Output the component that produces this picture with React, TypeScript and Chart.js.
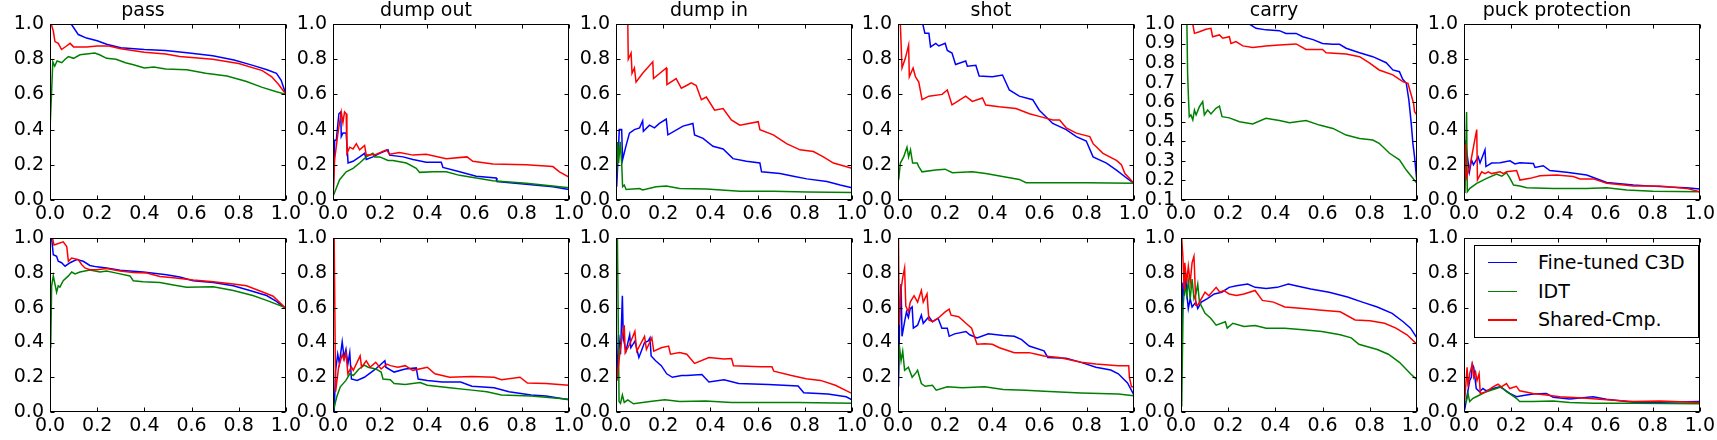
import { useEffect, useRef } from "react"
import { Chart, registerables } from "chart.js"

Chart.register(...registerables)

const FONT = "'DejaVu Sans', sans-serif"

type Pt = [number, number]

const titles = ["pass", "dump out", "dump in", "shot", "carry", "puck protection"]
const methods = ["Fine-tuned C3D", "IDT", "Shared-Cmp."]
const colors = ["#0000ff", "#008000", "#ff0000"]
const xTicks = [0, 0.2, 0.4, 0.6, 0.8, 1.0]
const yTicks = [0, 0.2, 0.4, 0.6, 0.8, 1.0]
const carryYTicks = [0.1, 0.2, 0.3, 0.4, 0.5, 0.6, 0.7, 0.8, 0.9, 1.0]

// top row
const passTopC3D: Pt[] = [[0,1],[0.09,1],[0.12,0.94],[0.155,0.92],[0.2,0.905],[0.24,0.885],[0.3,0.865],[0.4,0.855],[0.49,0.85],[0.59,0.835],[0.69,0.82],[0.78,0.795],[0.86,0.765],[0.92,0.74],[0.96,0.72],[0.98,0.68],[1,0.6]]
const passTopIDT: Pt[] = [[0,0.4],[0.012,0.785],[0.02,0.76],[0.03,0.79],[0.05,0.78],[0.064,0.8],[0.078,0.815],[0.1,0.805],[0.127,0.825],[0.19,0.835],[0.21,0.825],[0.24,0.805],[0.28,0.8],[0.32,0.78],[0.35,0.77],[0.4,0.75],[0.44,0.755],[0.49,0.745],[0.58,0.74],[0.66,0.72],[0.75,0.705],[0.83,0.675],[0.9,0.64],[0.96,0.615],[1,0.6]]
const passTopShared: Pt[] = [[0.005,1],[0.014,0.96],[0.021,0.9],[0.035,0.89],[0.049,0.855],[0.07,0.875],[0.085,0.89],[0.1,0.87],[0.155,0.87],[0.2,0.875],[0.25,0.875],[0.3,0.86],[0.4,0.84],[0.49,0.83],[0.55,0.815],[0.69,0.8],[0.8,0.775],[0.9,0.735],[0.94,0.7],[0.97,0.655],[1,0.6]]

const dumpOutTopC3D: Pt[] = [[0,0],[0.007,0.34],[0.014,0.34],[0.025,0.49],[0.033,0.5],[0.035,0.36],[0.042,0.38],[0.056,0.38],[0.064,0.21],[0.085,0.22],[0.113,0.245],[0.134,0.265],[0.141,0.23],[0.169,0.245],[0.198,0.265],[0.233,0.285],[0.24,0.255],[0.297,0.245],[0.339,0.23],[0.395,0.215],[0.459,0.215],[0.466,0.185],[0.537,0.16],[0.607,0.135],[0.692,0.125],[0.695,0.105],[0.819,0.09],[0.932,0.075],[1,0.06]]
const dumpOutTopIDT: Pt[] = [[0,0.02],[0.028,0.115],[0.056,0.16],[0.085,0.18],[0.113,0.21],[0.141,0.245],[0.169,0.265],[0.177,0.245],[0.198,0.245],[0.233,0.225],[0.254,0.225],[0.311,0.21],[0.353,0.18],[0.367,0.157],[0.424,0.16],[0.48,0.16],[0.537,0.14],[0.607,0.125],[0.678,0.11],[0.819,0.095],[0.932,0.08],[1,0.07]]
const dumpOutTopShared: Pt[] = [[0,0],[0.007,0.23],[0.021,0.38],[0.035,0.5],[0.042,0.44],[0.049,0.5],[0.056,0.49],[0.059,0.265],[0.071,0.3],[0.085,0.29],[0.099,0.32],[0.113,0.285],[0.134,0.31],[0.141,0.255],[0.184,0.26],[0.226,0.285],[0.24,0.26],[0.282,0.27],[0.339,0.255],[0.395,0.26],[0.48,0.235],[0.568,0.245],[0.593,0.22],[0.678,0.205],[0.819,0.2],[0.932,0.19],[0.96,0.16],[1,0.13]]

const dumpInTopC3D: Pt[] = [[0.003,0.075],[0.014,0.4],[0.024,0.4],[0.028,0.23],[0.043,0.31],[0.057,0.38],[0.078,0.4],[0.1,0.41],[0.113,0.45],[0.116,0.39],[0.142,0.425],[0.163,0.41],[0.184,0.435],[0.213,0.46],[0.22,0.37],[0.284,0.42],[0.326,0.435],[0.333,0.37],[0.369,0.35],[0.411,0.305],[0.454,0.29],[0.496,0.235],[0.553,0.22],[0.61,0.21],[0.617,0.16],[0.695,0.15],[0.752,0.135],[0.809,0.12],[0.894,0.105],[0.95,0.085],[1,0.07]]
const dumpInTopIDT: Pt[] = [[0.003,0.15],[0.007,0.33],[0.011,0.21],[0.018,0.33],[0.024,0.21],[0.028,0.075],[0.035,0.085],[0.043,0.06],[0.1,0.065],[0.113,0.057],[0.17,0.075],[0.213,0.08],[0.27,0.065],[0.383,0.063],[0.525,0.05],[0.667,0.05],[0.809,0.045],[1,0.042]]
const dumpInTopShared: Pt[] = [[0.05,1],[0.052,0.8],[0.064,0.835],[0.068,0.72],[0.078,0.75],[0.085,0.67],[0.113,0.72],[0.156,0.785],[0.159,0.69],[0.213,0.75],[0.216,0.655],[0.255,0.69],[0.277,0.635],[0.305,0.655],[0.319,0.665],[0.34,0.65],[0.362,0.57],[0.383,0.585],[0.418,0.51],[0.454,0.52],[0.489,0.455],[0.525,0.425],[0.603,0.445],[0.61,0.4],[0.667,0.37],[0.723,0.32],[0.78,0.285],[0.837,0.275],[0.879,0.245],[0.922,0.21],[1,0.18]]

const shotTopC3D: Pt[] = [[0.105,1],[0.114,0.947],[0.131,0.947],[0.138,0.87],[0.16,0.89],[0.173,0.875],[0.2,0.89],[0.209,0.85],[0.229,0.835],[0.244,0.77],[0.287,0.79],[0.294,0.76],[0.33,0.765],[0.344,0.705],[0.4,0.7],[0.443,0.71],[0.472,0.625],[0.514,0.59],[0.571,0.57],[0.599,0.51],[0.656,0.435],[0.713,0.4],[0.756,0.36],[0.798,0.335],[0.827,0.245],[0.884,0.21],[0.926,0.17],[0.969,0.125],[1,0.095]]
const shotTopIDT: Pt[] = [[0.003,0.115],[0.01,0.21],[0.024,0.245],[0.038,0.3],[0.045,0.245],[0.053,0.285],[0.062,0.21],[0.081,0.21],[0.088,0.19],[0.102,0.16],[0.159,0.17],[0.2,0.175],[0.23,0.155],[0.315,0.16],[0.372,0.15],[0.443,0.133],[0.514,0.117],[0.543,0.098],[0.656,0.098],[0.798,0.098],[1,0.095]]
const shotTopShared: Pt[] = [[0.01,1],[0.017,0.75],[0.031,0.805],[0.045,0.88],[0.048,0.7],[0.064,0.75],[0.074,0.7],[0.088,0.67],[0.102,0.57],[0.131,0.59],[0.187,0.6],[0.209,0.625],[0.229,0.54],[0.287,0.59],[0.315,0.56],[0.358,0.58],[0.372,0.54],[0.429,0.53],[0.5,0.52],[0.557,0.49],[0.599,0.475],[0.656,0.455],[0.685,0.455],[0.713,0.41],[0.756,0.38],[0.813,0.36],[0.827,0.32],[0.869,0.265],[0.926,0.225],[0.947,0.2],[0.962,0.15],[1,0.095]]

const carryTopC3D: Pt[] = [[0,1],[0.29,1],[0.318,0.978],[0.36,0.97],[0.417,0.966],[0.445,0.952],[0.488,0.952],[0.516,0.935],[0.56,0.92],[0.6,0.9],[0.644,0.896],[0.672,0.896],[0.7,0.876],[0.757,0.853],[0.813,0.833],[0.87,0.802],[0.898,0.765],[0.926,0.756],[0.94,0.717],[0.955,0.697],[0.966,0.611],[0.976,0.492],[0.983,0.39],[0.99,0.322],[1,0.194]]
const carryTopIDT: Pt[] = [[0.025,1],[0.028,0.748],[0.032,0.611],[0.035,0.526],[0.042,0.535],[0.05,0.51],[0.057,0.56],[0.064,0.535],[0.078,0.577],[0.092,0.603],[0.099,0.535],[0.113,0.56],[0.127,0.54],[0.148,0.569],[0.163,0.58],[0.174,0.526],[0.205,0.52],[0.248,0.5],[0.304,0.489],[0.36,0.518],[0.417,0.506],[0.46,0.495],[0.53,0.506],[0.587,0.483],[0.644,0.466],[0.7,0.432],[0.757,0.415],[0.813,0.407],[0.84,0.39],[0.884,0.339],[0.926,0.305],[0.955,0.253],[0.983,0.211],[1,0.185]]
const carryTopShared: Pt[] = [[0.05,1],[0.057,0.952],[0.078,0.96],[0.106,0.973],[0.127,0.978],[0.134,0.935],[0.163,0.944],[0.177,0.927],[0.205,0.935],[0.212,0.9],[0.233,0.91],[0.262,0.888],[0.304,0.88],[0.36,0.888],[0.417,0.893],[0.488,0.898],[0.53,0.87],[0.6,0.87],[0.615,0.853],[0.7,0.846],[0.757,0.833],[0.8,0.8],[0.84,0.765],[0.898,0.74],[0.94,0.705],[0.962,0.697],[0.976,0.637],[0.986,0.594],[0.99,0.552],[1,0.535]]

const puckTopC3D: Pt[] = [[0.001,0.04],[0.007,0.34],[0.011,0.28],[0.023,0.16],[0.032,0.227],[0.04,0.2],[0.06,0.245],[0.068,0.21],[0.089,0.285],[0.093,0.19],[0.117,0.21],[0.153,0.212],[0.195,0.223],[0.216,0.205],[0.237,0.212],[0.294,0.208],[0.301,0.185],[0.336,0.195],[0.364,0.167],[0.435,0.157],[0.52,0.142],[0.605,0.1],[0.718,0.085],[0.83,0.076],[0.943,0.07],[1,0.063]]
const puckTopIDT: Pt[] = [[0.004,0.04],[0.011,0.5],[0.014,0.047],[0.025,0.066],[0.054,0.095],[0.096,0.123],[0.138,0.148],[0.16,0.135],[0.18,0.155],[0.195,0.123],[0.21,0.085],[0.237,0.08],[0.266,0.07],[0.38,0.066],[0.52,0.066],[0.605,0.07],[0.69,0.057],[0.8,0.05],[1,0.047]]
const puckTopShared: Pt[] = [[0.001,0.04],[0.007,0.32],[0.011,0.13],[0.025,0.19],[0.04,0.3],[0.054,0.4],[0.057,0.115],[0.075,0.16],[0.089,0.15],[0.103,0.16],[0.117,0.15],[0.153,0.16],[0.167,0.15],[0.18,0.16],[0.223,0.167],[0.237,0.113],[0.28,0.123],[0.322,0.138],[0.393,0.142],[0.463,0.133],[0.492,0.12],[0.548,0.12],[0.605,0.095],[0.718,0.08],[0.83,0.08],[0.943,0.066],[1,0.047]]

// bottom row
const passBotC3D: Pt[] = [[0.007,1],[0.014,0.906],[0.028,0.897],[0.035,0.868],[0.049,0.86],[0.064,0.84],[0.085,0.86],[0.113,0.878],[0.141,0.868],[0.169,0.844],[0.198,0.836],[0.24,0.83],[0.297,0.816],[0.395,0.806],[0.494,0.79],[0.55,0.778],[0.607,0.756],[0.692,0.746],[0.777,0.727],[0.847,0.7],[0.918,0.671],[0.96,0.637],[1,0.596]]
const passBotIDT: Pt[] = [[0.003,0.37],[0.007,0.727],[0.014,0.784],[0.021,0.737],[0.028,0.69],[0.035,0.727],[0.042,0.72],[0.056,0.756],[0.078,0.784],[0.092,0.806],[0.106,0.795],[0.127,0.806],[0.169,0.818],[0.212,0.806],[0.24,0.812],[0.282,0.8],[0.339,0.784],[0.353,0.756],[0.395,0.75],[0.466,0.746],[0.523,0.731],[0.579,0.718],[0.692,0.722],[0.777,0.7],[0.86,0.671],[0.918,0.643],[1,0.6]]
const passBotShared: Pt[] = [[0.011,1],[0.017,0.962],[0.056,0.98],[0.071,0.953],[0.078,0.868],[0.092,0.887],[0.12,0.878],[0.134,0.85],[0.148,0.83],[0.169,0.82],[0.198,0.82],[0.24,0.827],[0.297,0.812],[0.353,0.803],[0.41,0.8],[0.466,0.78],[0.523,0.774],[0.607,0.76],[0.692,0.75],[0.777,0.737],[0.833,0.727],[0.904,0.69],[0.946,0.667],[1,0.596]]

const dumpOutBotC3D: Pt[] = [[0.005,0],[0.011,0.24],[0.02,0.333],[0.027,0.28],[0.039,0.404],[0.047,0.314],[0.055,0.36],[0.063,0.276],[0.071,0.342],[0.078,0.19],[0.102,0.182],[0.133,0.2],[0.181,0.248],[0.22,0.295],[0.224,0.258],[0.259,0.23],[0.306,0.248],[0.353,0.254],[0.361,0.19],[0.4,0.182],[0.463,0.173],[0.541,0.173],[0.589,0.148],[0.683,0.14],[0.746,0.117],[0.84,0.098],[0.903,0.092],[1,0.07]]
const dumpOutBotIDT: Pt[] = [[0,0],[0.016,0.088],[0.031,0.145],[0.055,0.182],[0.071,0.22],[0.086,0.21],[0.11,0.248],[0.133,0.27],[0.149,0.258],[0.181,0.248],[0.204,0.23],[0.212,0.19],[0.243,0.186],[0.259,0.164],[0.306,0.158],[0.369,0.17],[0.4,0.154],[0.494,0.14],[0.589,0.126],[0.652,0.117],[0.714,0.098],[0.84,0.092],[1,0.073]]
const dumpOutBotShared: Pt[] = [[0.005,1],[0.011,0.117],[0.024,0.26],[0.039,0.33],[0.047,0.3],[0.055,0.34],[0.063,0.22],[0.078,0.26],[0.086,0.24],[0.115,0.323],[0.121,0.258],[0.141,0.295],[0.157,0.258],[0.181,0.286],[0.204,0.248],[0.228,0.276],[0.243,0.267],[0.275,0.258],[0.306,0.267],[0.338,0.24],[0.4,0.258],[0.432,0.22],[0.494,0.2],[0.589,0.205],[0.683,0.2],[0.714,0.186],[0.793,0.2],[0.824,0.167],[0.903,0.164],[1,0.154]]

const dumpInBotC3D: Pt[] = [[0.003,0.18],[0.011,0.445],[0.019,0.333],[0.027,0.67],[0.031,0.427],[0.042,0.35],[0.058,0.445],[0.063,0.37],[0.08,0.408],[0.097,0.314],[0.121,0.4],[0.137,0.41],[0.144,0.427],[0.149,0.323],[0.168,0.295],[0.192,0.267],[0.215,0.22],[0.239,0.2],[0.278,0.21],[0.3,0.21],[0.364,0.216],[0.394,0.173],[0.458,0.186],[0.52,0.164],[0.646,0.158],[0.772,0.15],[0.796,0.111],[0.898,0.103],[0.976,0.088],[1,0.07]]
const dumpInBotIDT: Pt[] = [[0.006,1],[0.013,0.06],[0.019,0.05],[0.027,0.098],[0.035,0.055],[0.05,0.07],[0.074,0.047],[0.144,0.06],[0.207,0.07],[0.27,0.06],[0.38,0.064],[0.49,0.055],[0.615,0.055],[0.772,0.055],[1,0.05]]
const dumpInBotShared: Pt[] = [[0.003,0.18],[0.019,0.37],[0.035,0.5],[0.039,0.342],[0.058,0.39],[0.08,0.464],[0.088,0.35],[0.121,0.436],[0.129,0.36],[0.152,0.427],[0.16,0.35],[0.192,0.37],[0.223,0.38],[0.231,0.333],[0.27,0.342],[0.3,0.333],[0.333,0.28],[0.394,0.314],[0.458,0.305],[0.49,0.308],[0.498,0.267],[0.615,0.261],[0.661,0.26],[0.669,0.235],[0.744,0.21],[0.806,0.192],[0.867,0.182],[0.93,0.154],[1,0.107]]

const shotBotC3D: Pt[] = [[0.002,0.145],[0.008,0.615],[0.013,0.737],[0.017,0.436],[0.028,0.52],[0.036,0.577],[0.044,0.545],[0.052,0.595],[0.06,0.605],[0.065,0.483],[0.083,0.5],[0.099,0.558],[0.107,0.511],[0.131,0.549],[0.146,0.52],[0.17,0.54],[0.186,0.483],[0.209,0.483],[0.217,0.436],[0.24,0.45],[0.288,0.464],[0.304,0.445],[0.335,0.427],[0.383,0.45],[0.446,0.44],[0.493,0.436],[0.524,0.417],[0.556,0.38],[0.619,0.352],[0.635,0.314],[0.713,0.31],[0.776,0.286],[0.839,0.258],[0.902,0.242],[0.934,0.22],[0.973,0.167],[1,0.098]]
const shotBotIDT: Pt[] = [[0.002,0.22],[0.005,0.39],[0.013,0.295],[0.02,0.35],[0.028,0.24],[0.044,0.258],[0.06,0.2],[0.075,0.224],[0.083,0.24],[0.099,0.164],[0.115,0.148],[0.146,0.154],[0.162,0.126],[0.209,0.145],[0.272,0.14],[0.367,0.145],[0.446,0.13],[0.54,0.126],[0.619,0.12],[0.776,0.11],[0.934,0.103],[1,0.094]]
const shotBotShared: Pt[] = [[0.002,1],[0.005,0.5],[0.013,0.71],[0.02,0.774],[0.028,0.83],[0.033,0.61],[0.044,0.577],[0.052,0.633],[0.068,0.67],[0.083,0.633],[0.099,0.7],[0.107,0.633],[0.123,0.68],[0.131,0.53],[0.146,0.52],[0.17,0.54],[0.2,0.577],[0.217,0.592],[0.225,0.558],[0.257,0.549],[0.288,0.511],[0.312,0.483],[0.335,0.39],[0.367,0.393],[0.4,0.39],[0.43,0.37],[0.493,0.342],[0.556,0.342],[0.587,0.333],[0.619,0.323],[0.682,0.314],[0.713,0.305],[0.776,0.286],[0.839,0.276],[0.934,0.267],[0.978,0.267],[0.981,0.2],[0.99,0.145],[1,0.145]]

const carryBotC3D: Pt[] = [[0.003,0.333],[0.008,0.746],[0.013,0.67],[0.019,0.8],[0.024,0.69],[0.031,0.596],[0.039,0.652],[0.047,0.605],[0.063,0.633],[0.071,0.596],[0.086,0.633],[0.11,0.652],[0.141,0.68],[0.173,0.69],[0.204,0.718],[0.235,0.727],[0.283,0.737],[0.314,0.718],[0.361,0.712],[0.408,0.718],[0.455,0.737],[0.487,0.727],[0.55,0.709],[0.628,0.69],[0.706,0.662],[0.769,0.633],[0.832,0.605],[0.895,0.568],[0.942,0.52],[0.973,0.483],[1,0.427]]
const carryBotIDT: Pt[] = [[0.003,0.03],[0.009,0.615],[0.016,0.727],[0.024,0.67],[0.031,0.756],[0.039,0.652],[0.047,0.765],[0.055,0.652],[0.063,0.68],[0.071,0.737],[0.078,0.633],[0.102,0.568],[0.126,0.54],[0.149,0.5],[0.188,0.52],[0.196,0.483],[0.22,0.511],[0.267,0.492],[0.314,0.498],[0.361,0.483],[0.44,0.483],[0.518,0.474],[0.597,0.464],[0.675,0.445],[0.722,0.427],[0.754,0.39],[0.832,0.36],[0.879,0.333],[0.926,0.286],[0.973,0.22],[1,0.186]]
const carryBotShared: Pt[] = [[0.003,1],[0.008,0.897],[0.013,0.71],[0.016,0.86],[0.024,0.746],[0.031,0.84],[0.039,0.746],[0.047,0.86],[0.055,0.897],[0.063,0.615],[0.071,0.615],[0.086,0.652],[0.102,0.69],[0.118,0.67],[0.149,0.718],[0.165,0.69],[0.181,0.7],[0.204,0.68],[0.235,0.671],[0.267,0.68],[0.314,0.7],[0.345,0.643],[0.392,0.633],[0.44,0.605],[0.518,0.596],[0.597,0.586],[0.675,0.577],[0.738,0.53],[0.801,0.526],[0.863,0.511],[0.911,0.483],[0.958,0.445],[1,0.39]]

const puckBotC3D: Pt[] = [[0.003,0.013],[0.01,0.07],[0.024,0.18],[0.031,0.2],[0.035,0.276],[0.041,0.258],[0.052,0.135],[0.066,0.117],[0.08,0.135],[0.095,0.122],[0.123,0.135],[0.151,0.145],[0.165,0.135],[0.194,0.107],[0.222,0.088],[0.264,0.098],[0.293,0.103],[0.349,0.107],[0.378,0.085],[0.448,0.075],[0.547,0.088],[0.604,0.073],[0.717,0.056],[0.83,0.056],[1,0.06]]
const puckBotIDT: Pt[] = [[0.003,0.05],[0.01,0.06],[0.017,0.107],[0.024,0.06],[0.038,0.079],[0.052,0.088],[0.095,0.117],[0.137,0.135],[0.158,0.145],[0.18,0.117],[0.201,0.098],[0.222,0.079],[0.236,0.06],[0.293,0.06],[0.378,0.064],[0.448,0.055],[0.547,0.05],[0.717,0.05],[1,0.047]]
const puckBotShared: Pt[] = [[0.003,0.07],[0.013,0.258],[0.017,0.145],[0.024,0.22],[0.035,0.276],[0.041,0.2],[0.049,0.23],[0.055,0.18],[0.064,0.22],[0.069,0.107],[0.095,0.117],[0.123,0.145],[0.144,0.16],[0.158,0.145],[0.18,0.164],[0.194,0.135],[0.222,0.148],[0.236,0.122],[0.293,0.107],[0.349,0.098],[0.406,0.088],[0.52,0.079],[0.604,0.07],[0.717,0.06],[0.83,0.064],[1,0.055]]

const topRow: Pt[][][] = [
  [passTopC3D, passTopIDT, passTopShared],
  [dumpOutTopC3D, dumpOutTopIDT, dumpOutTopShared],
  [dumpInTopC3D, dumpInTopIDT, dumpInTopShared],
  [shotTopC3D, shotTopIDT, shotTopShared],
  [carryTopC3D, carryTopIDT, carryTopShared],
  [puckTopC3D, puckTopIDT, puckTopShared],
]
const bottomRow: Pt[][][] = [
  [passBotC3D, passBotIDT, passBotShared],
  [dumpOutBotC3D, dumpOutBotIDT, dumpOutBotShared],
  [dumpInBotC3D, dumpInBotIDT, dumpInBotShared],
  [shotBotC3D, shotBotIDT, shotBotShared],
  [carryBotC3D, carryBotIDT, carryBotShared],
  [puckBotC3D, puckBotIDT, puckBotShared],
]

// layout in page pixels
const PLOT_W = 236
const Y_AXIS_W = 50
const X_AXIS_H = 28
const PAD_RIGHT = 18
const colLeft = (c: number) => Math.round(50 + c * 282.8)

// inward ticks on all four sides plus the box, like the classic matplotlib look
const frameTicks = {
  id: "frameTicks",
  afterDatasetsDraw(chart: any) {
    const { ctx, chartArea: a, scales } = chart
    const xs = scales.x
    const ys = scales.y
    const L = Math.round(a.left) + 0.5
    const R = Math.round(a.right) - 0.5
    const T = Math.round(a.top) + 0.5
    const B = Math.round(a.bottom) - 0.5
    ctx.save()
    ctx.strokeStyle = "#000"
    ctx.lineWidth = 1
    ctx.beginPath()
    for (const t of xs.ticks) {
      const px = Math.round(xs.getPixelForValue(t.value)) + 0.5
      ctx.moveTo(px, B)
      ctx.lineTo(px, B - 4)
      ctx.moveTo(px, T)
      ctx.lineTo(px, T + 4)
    }
    for (const t of ys.ticks) {
      const py = Math.round(ys.getPixelForValue(t.value)) + 0.5
      ctx.moveTo(L, py)
      ctx.lineTo(L + 4, py)
      ctx.moveTo(R, py)
      ctx.lineTo(R - 4, py)
    }
    ctx.stroke()
    ctx.strokeRect(L, T, R - L, B - T)
    ctx.restore()
  },
}

interface PanelProps {
  series: Pt[][]
  title?: string
  ticksY: number[]
  left: number
  top: number
  padTop: number
  plotH: number
}

function Panel({ series, title, ticksY, left, top, padTop, plotH }: PanelProps) {
  const canvasRef = useRef<HTMLCanvasElement>(null)
  const width = Y_AXIS_W + PLOT_W + PAD_RIGHT
  const height = padTop + plotH + X_AXIS_H

  useEffect(() => {
    if (!canvasRef.current) return
    const order = [3, 2, 1]
    const chart = new Chart(canvasRef.current, {
      type: "line",
      data: {
        datasets: series.map((pts, i) => ({
          label: methods[i],
          data: pts.map(([x, y]) => ({ x, y })),
          borderColor: colors[i],
          borderWidth: 1.5,
          pointRadius: 0,
          tension: 0,
          fill: false,
          order: order[i],
        })),
      },
      options: {
        responsive: false,
        animation: false,
        layout: { padding: { top: title ? 0 : padTop, right: PAD_RIGHT, left: 0, bottom: 0 } },
        plugins: {
          legend: { display: false },
          tooltip: { enabled: false },
          title: {
            display: !!title,
            text: title ?? "",
            color: "#000",
            font: { family: FONT, size: 19, weight: "normal" },
            padding: { top: 0, bottom: padTop - 22.8 },
          },
        },
        scales: {
          x: {
            type: "linear",
            min: 0,
            max: 1,
            grid: { display: false, drawTicks: false },
            border: { display: false },
            afterBuildTicks: (s: any) => {
              s.ticks = xTicks.map((v) => ({ value: v }))
            },
            afterFit: (s: any) => {
              s.height = X_AXIS_H
            },
            ticks: {
              color: "#000",
              font: { family: FONT, size: 19 },
              padding: 3,
              maxRotation: 0,
              autoSkip: false,
              callback: (v: any) => Number(v).toFixed(1),
            },
          },
          y: {
            type: "linear",
            min: ticksY[0],
            max: ticksY[ticksY.length - 1],
            grid: { display: false, drawTicks: false },
            border: { display: false },
            afterBuildTicks: (s: any) => {
              s.ticks = ticksY.map((v) => ({ value: v }))
            },
            afterFit: (s: any) => {
              s.width = Y_AXIS_W
            },
            ticks: {
              color: "#000",
              font: { family: FONT, size: 19 },
              padding: 6,
              autoSkip: false,
              callback: (v: any) => Number(v).toFixed(1),
            },
          },
        },
      },
      plugins: [frameTicks],
    })
    return () => chart.destroy()
  }, [series, title, ticksY, padTop, plotH])

  return (
    <canvas
      ref={canvasRef}
      width={width}
      height={height}
      style={{ position: "absolute", left: left - Y_AXIS_W, top, width, height }}
    />
  )
}

function Legend() {
  const rows = [16.7, 45.7, 74]
  return (
    <div
      style={{
        position: "absolute",
        left: 1474,
        top: 245,
        width: 225,
        height: 93,
        boxSizing: "border-box",
        border: "1px solid #000",
        background: "#fff",
        fontFamily: FONT,
        fontSize: 19,
      }}
    >
      {methods.map((m, i) => (
        <div key={m}>
          <div
            style={{
              position: "absolute",
              left: 13,
              top: rows[i] - 1,
              width: 29,
              height: 1.5,
              background: colors[i],
            }}
          />
          <div
            style={{
              position: "absolute",
              left: 63,
              top: rows[i] - 12,
              lineHeight: "23px",
              whiteSpace: "nowrap",
              color: "#000",
            }}
          >
            {m}
          </div>
        </div>
      ))}
    </div>
  )
}

export default function App() {
  return (
    <div style={{ position: "absolute", left: 0, top: 0, width: 1717, height: 440, background: "#fff" }}>
      {topRow.map((s, c) => (
        <Panel
          key={"t" + c}
          series={s}
          title={titles[c]}
          ticksY={c === 4 ? carryYTicks : yTicks}
          left={colLeft(c)}
          top={0}
          padTop={24}
          plotH={176}
        />
      ))}
      {bottomRow.map((s, c) => (
        <Panel
          key={"b" + c}
          series={s}
          ticksY={yTicks}
          left={colLeft(c)}
          top={221}
          padTop={14}
          plotH={177}
        />
      ))}
      <Legend />
    </div>
  )
}
